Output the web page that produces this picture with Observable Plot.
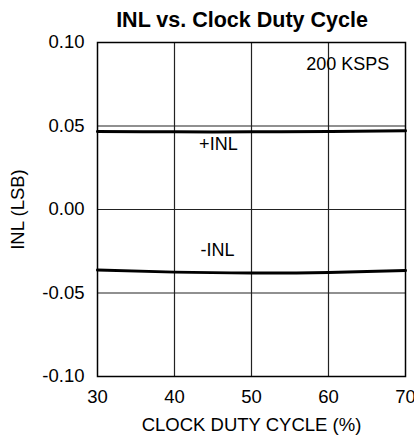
<!DOCTYPE html>
<html>
<head>
<meta charset="utf-8">
<script src="https://cdn.jsdelivr.net/npm/d3@7"></script>
<script src="https://cdn.jsdelivr.net/npm/@observablehq/plot@0.6"></script>
<style>
  html, body { margin: 0; padding: 0; background: #fff; }
  #title { height: 36px; box-sizing: border-box; padding-left: 70px; padding-top: 9px; text-align: center;
    font: bold 21.5px "Liberation Sans", Arial, sans-serif; color: #000; line-height: 22px; }
</style>
</head>
<body>
<div id="title">INL vs. Clock Duty Cycle</div>
<div id="chart"></div>
<script>
const titleText = "INL vs. Clock Duty Cycle";
const xLabel = "CLOCK DUTY CYCLE (%)";
const yLabel = "INL (LSB)";
const dutyCycle = [30, 40, 50, 60, 70];
const inlPlus = [0.0467, 0.0465, 0.0465, 0.0467, 0.0472];
const inlMinus = [-0.0362, -0.0375, -0.038, -0.0377, -0.0366];
const xTicks = [30, 40, 50, 60, 70];
const yTicks = [-0.10, -0.05, 0.00, 0.05, 0.10];
const annotations = [
  {x: 62.5, y: 0.087, text: "200 KSPS"},
  {x: 45.7, y: 0.039, text: "+INL"},
  {x: 45.6, y: -0.0245, text: "-INL"}
];

const posData = dutyCycle.map((d, i) => ({x: d, y: inlPlus[i]}));
const negData = dutyCycle.map((d, i) => ({x: d, y: inlMinus[i]}));

const chart = Plot.plot({
  width: 414,
  height: 400,
  marginLeft: 97,
  marginRight: 9,
  marginTop: 6,
  marginBottom: 60,
  style: {fontFamily: "'Liberation Sans', Arial, sans-serif", fontSize: "18px", color: "#000", background: "#fff", overflow: "visible"},
  x: {domain: [30, 70]},
  y: {domain: [-0.10, 0.10]},
  marks: [
    Plot.gridX([40, 50, 60], {stroke: "#222", strokeOpacity: 1, strokeWidth: 1.2}),
    Plot.gridY([-0.05, 0, 0.05], {stroke: "#222", strokeOpacity: 1, strokeWidth: 1.2}),
    Plot.frame({stroke: "#000", strokeWidth: 1.5}),
    Plot.axisX(xTicks, {tickSize: 0, tickPadding: 13, fontSize: 18.5, label: xLabel, labelAnchor: "center", labelArrow: "none", labelOffset: 54, tickFormat: d => String(d)}),
    Plot.axisY(yTicks, {tickSize: 0, tickPadding: 13, fontSize: 18.5, label: yLabel, labelAnchor: "center", labelArrow: "none", labelOffset: 87, tickFormat: d => d.toFixed(2)}),
    Plot.line(posData, {x: "x", y: "y", stroke: "#000", strokeWidth: 3, curve: "natural"}),
    Plot.line(negData, {x: "x", y: "y", stroke: "#000", strokeWidth: 3, curve: "natural"}),
    Plot.text(annotations, {x: "x", y: "y", text: "text", fill: "#000", fontSize: 18})
  ]
});
document.getElementById("chart").appendChild(chart);
</script>
</body>
</html>
